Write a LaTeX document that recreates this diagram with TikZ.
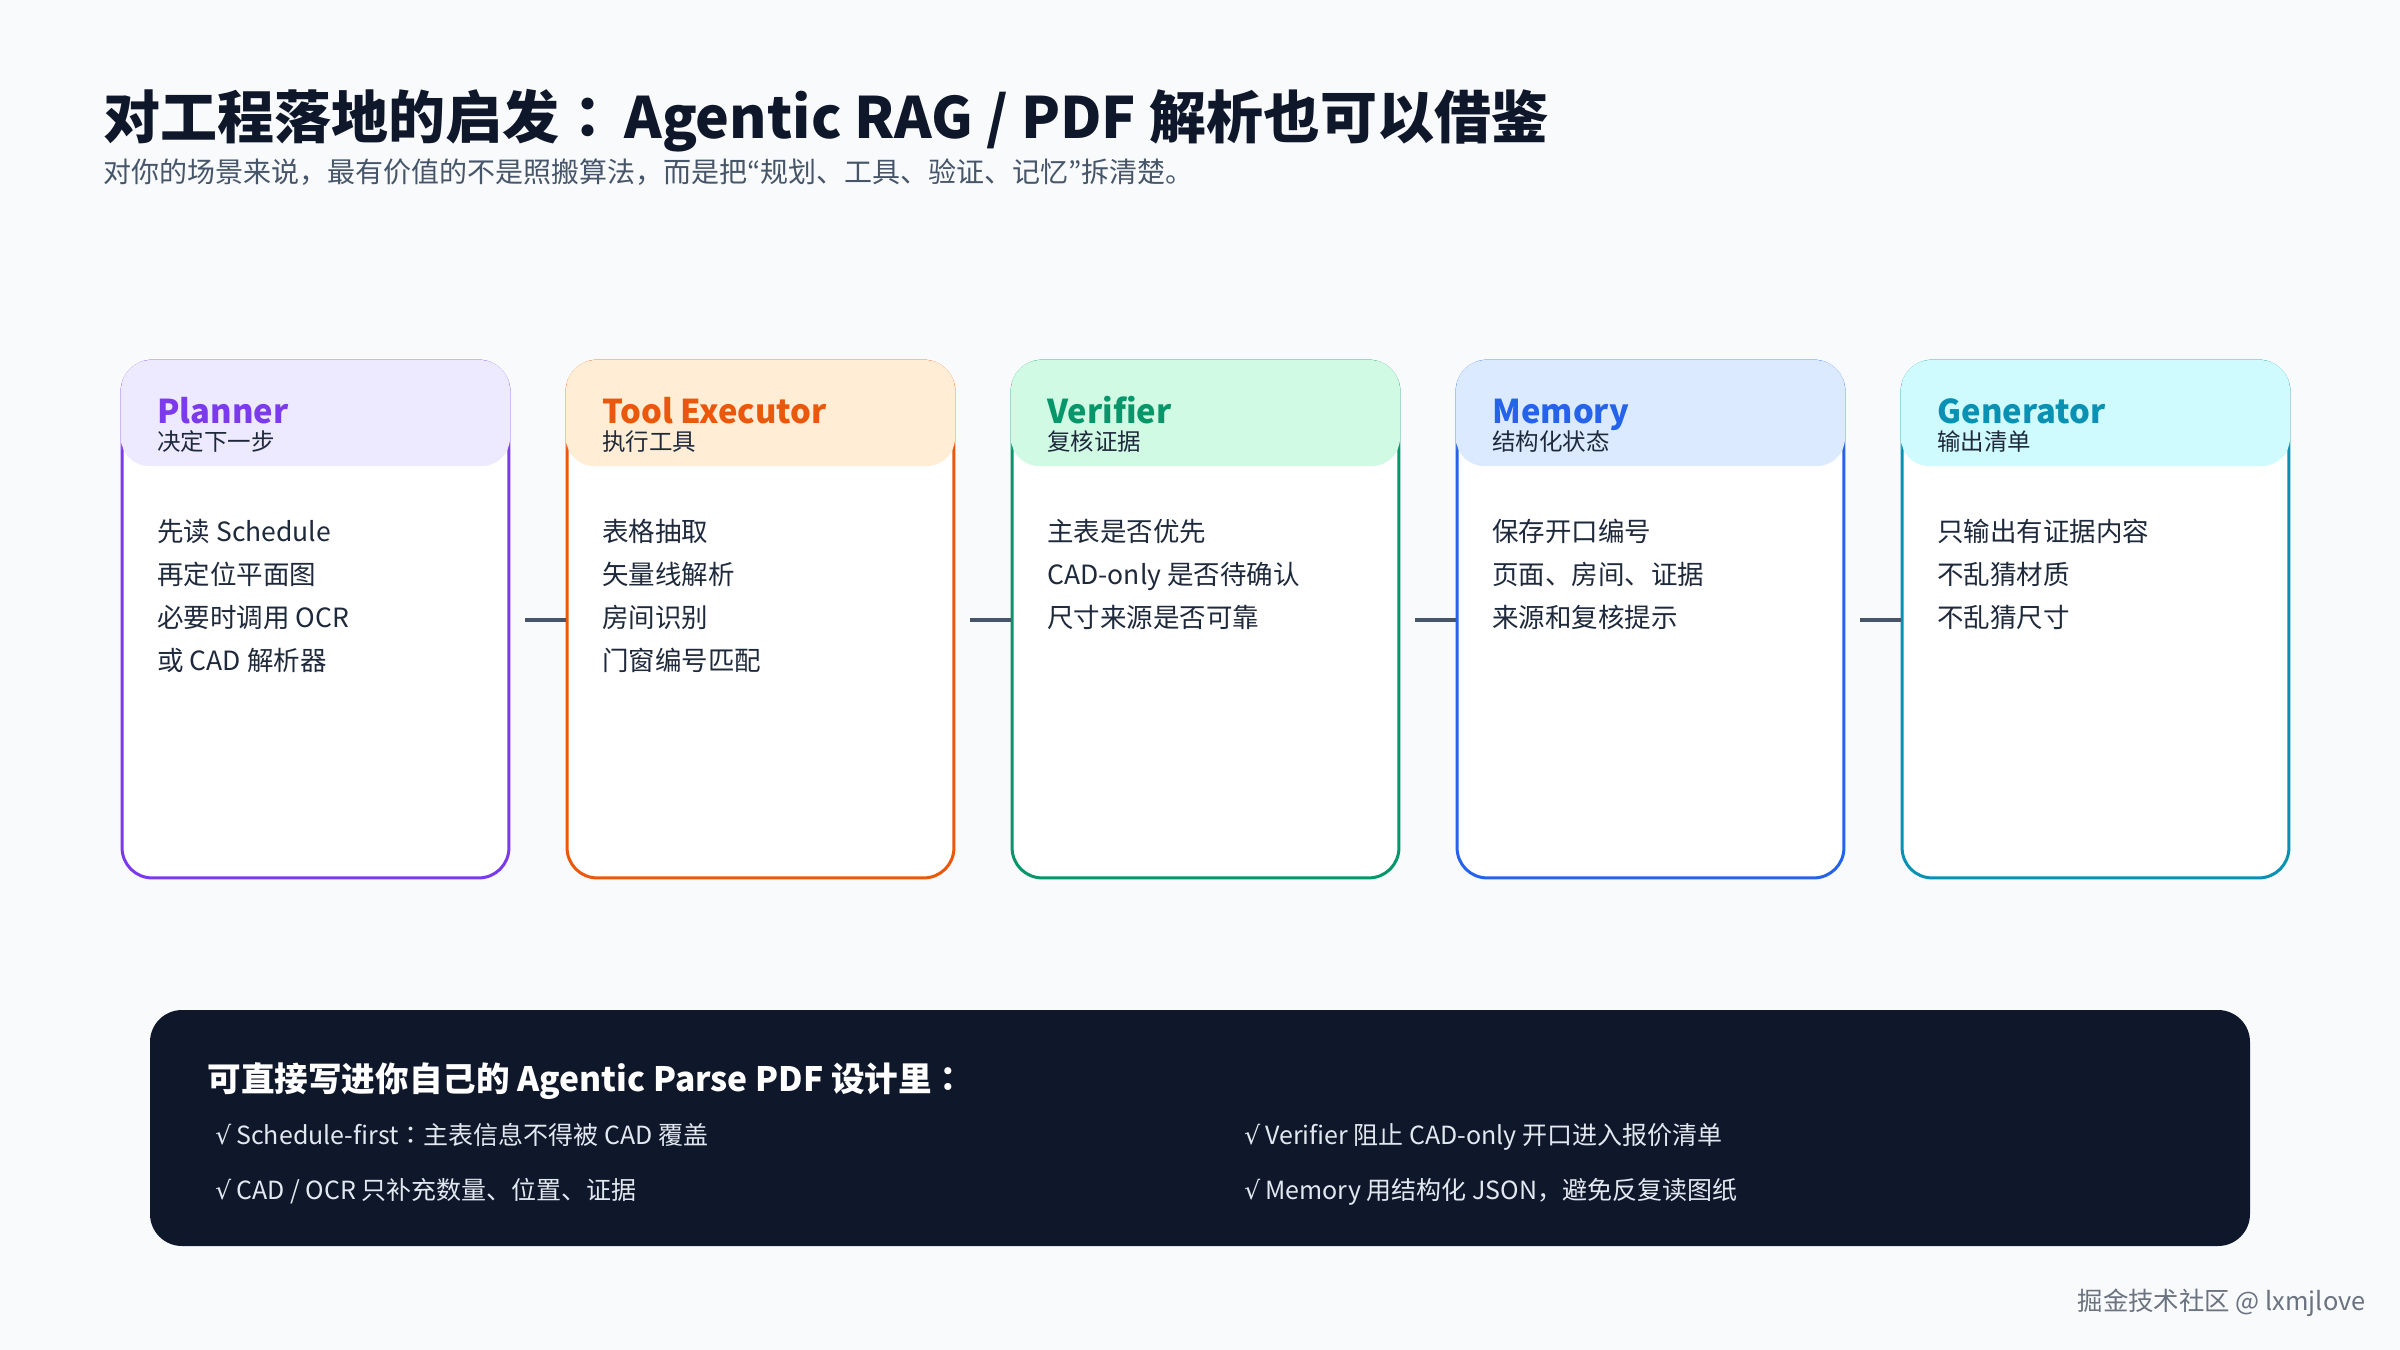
\documentclass[tikz,border=0pt]{standalone}
\usepackage{fontspec}
\setmainfont{Noto Sans CJK SC}
\newfontfamily\jp{Noto Sans CJK JP}
\newfontfamily\symf{DejaVu Sans}
\newcommand\jcolon{{\jp ：}}
\newcommand\myLQ{{\jp “}}
\newcommand\myRQ{{\jp ”}}
\newcommand\chk{{\symf √}\hspace{2.5pt}}
\definecolor{bg}{HTML}{F8FAFC}
\definecolor{ink}{HTML}{0F172A}
\definecolor{subink}{HTML}{475569}
\definecolor{bodyink}{HTML}{1E293B}
\definecolor{conn}{HTML}{475569}
\definecolor{navy}{HTML}{0F172A}
\definecolor{itemink}{HTML}{E2E8F0}
\definecolor{wmink}{HTML}{6B7280}
\definecolor{pA}{HTML}{7C3AED}\definecolor{hA}{HTML}{EDE9FE}
\definecolor{pB}{HTML}{EA580C}\definecolor{hB}{HTML}{FFEDD5}
\definecolor{pC}{HTML}{059669}\definecolor{hC}{HTML}{D1FAE5}
\definecolor{pD}{HTML}{2563EB}\definecolor{hD}{HTML}{DBEAFE}
\definecolor{pE}{HTML}{0891B2}\definecolor{hE}{HTML}{CFFAFE}
\tikzset{
  cardnode/.style={draw=none,minimum width=194.5pt,minimum height=259.5pt,inner sep=0pt},
  txt/.style={anchor=base west,inner sep=0pt},
  htitle/.style={txt,font=\fontsize{16.4pt}{20pt}\selectfont\bfseries},
  hsub/.style={txt,text=bodyink,font=\fontsize{11.75pt}{14pt}\selectfont},
  bodytxt/.style={txt,text=bodyink,font=\fontsize{13.25pt}{16pt}\selectfont},
  item/.style={txt,text=itemink,font=\fontsize{12.5pt}{16pt}\selectfont},
  connline/.style={draw=conn,line width=2pt},
}
\newcommand\mycard[7]{%
  \node[cardnode] (#1) at (#2+194.5,619.5) {};
  \draw[line width=1.5pt,draw=#3,fill=white,rounded corners=15pt]
    ([xshift=0.75pt,yshift=-0.75pt]#1.north west) rectangle ([xshift=-0.75pt,yshift=0.75pt]#1.south east);
  \fill[#4] (#2,420) [rounded corners=14pt] -- (#2,466) -- (#2+389,466) -- (#2+389,420)
    [rounded corners=15pt] -- (#2+389,360) -- (#2,360) -- cycle;
  \node[htitle,text=#3] (#1t) at (#2+36,423) {#5};
  \node[hsub] (#1s) at (#2+36,450) {#6};
  \foreach \t [count=\i] in {#7} {\node[bodytxt] (#1l\i) at (#2+36,497.7+43.3*\i) {\t};}
}
\begin{document}
\begin{tikzpicture}[x=0.5pt,y=-0.5pt]
\useasboundingbox (0,0) rectangle (2400,1350);
\fill[bg] (0,0) rectangle (2400,1350);
\node[txt,text=ink,font=\fontsize{28.5pt}{34pt}\selectfont\bfseries] (title) at (103,138) {对工程落地的启发\jcolon\hspace{4pt}Agentic RAG / PDF 解析也可以借鉴};
\node[txt,text=subink,font=\fontsize{14pt}{17pt}\selectfont] (subtitle) at (103,182) {对你的场景来说，最有价值的不是照搬算法，而是把\myLQ 规划、工具、验证、记忆\myRQ 拆清楚。};
\mycard{c1}{121}{pA}{hA}{Planner}{决定下一步}{先读 Schedule,再定位平面图,必要时调用 OCR,或 CAD 解析器}
\mycard{c2}{566}{pB}{hB}{Tool Executor}{执行工具}{表格抽取,矢量线解析,房间识别,门窗编号匹配}
\mycard{c3}{1011}{pC}{hC}{Verifier}{复核证据}{主表是否优先,CAD-only 是否待确认,尺寸来源是否可靠}
\mycard{c4}{1456}{pD}{hD}{Memory}{结构化状态}{保存开口编号,页面、房间、证据,来源和复核提示}
\mycard{c5}{1901}{pE}{hE}{Generator}{输出清单}{只输出有证据内容,不乱猜材质,不乱猜尺寸}
\draw[connline] ([xshift=7.5pt]c1.east) -- (c2.west);
\draw[connline] ([xshift=7.5pt]c2.east) -- (c3.west);
\draw[connline] ([xshift=7.5pt]c3.east) -- (c4.west);
\draw[connline] ([xshift=7.5pt]c4.east) -- (c5.west);
\node[fill=navy,draw=none,rounded corners=16pt,minimum width=1050pt,minimum height=118pt,inner sep=0pt] (box) at (1200,1128) {};
\node[txt,text=white,font=\fontsize{16.8pt}{21pt}\selectfont\bfseries] (boxtitle) at (207,1091) {可直接写进你自己的 Agentic Parse PDF 设计里\jcolon};
\node[item] (i1) at (215,1144) {\chk Schedule-first\jcolon 主表信息不得被 CAD 覆盖};
\node[item] (i2) at (215,1199) {\chk CAD / OCR 只补充数量、位置、证据};
\node[item] (i3) at (1244,1144) {\chk Verifier 阻止 CAD-only 开口进入报价清单};
\node[item] (i4) at (1244,1199) {\chk Memory 用结构化 JSON，避免反复读图纸};
\node[anchor=base east,inner sep=0pt,text=wmink,font=\fontsize{12.7pt}{16pt}\selectfont] (wm) at (2366,1310) {掘金技术社区 @ lxmjlove};
\end{tikzpicture}
\end{document}
